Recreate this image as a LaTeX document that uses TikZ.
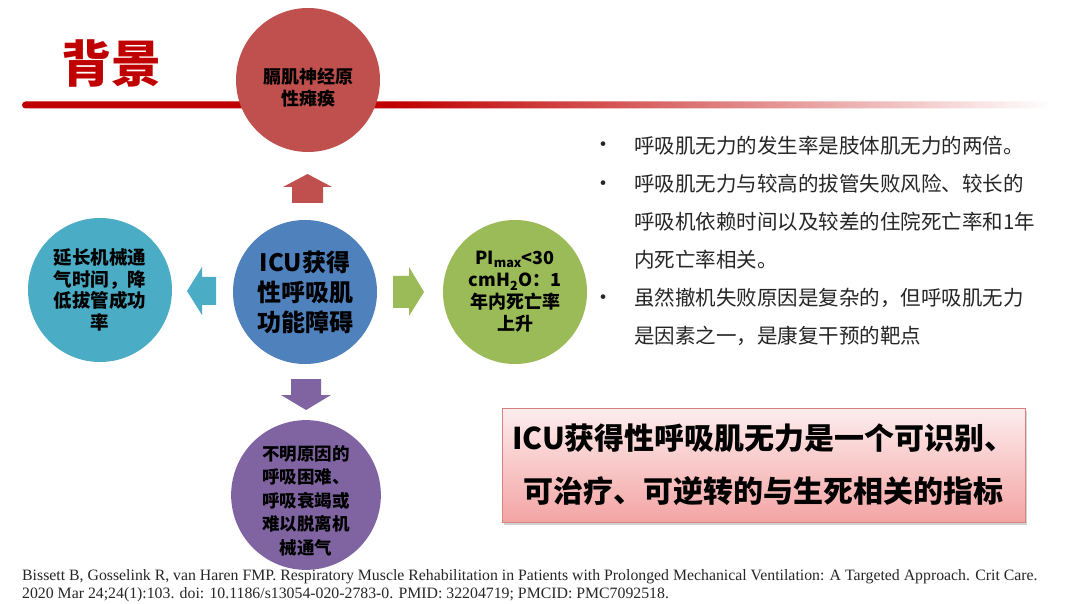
\documentclass[tikz,border=0pt]{standalone}
\usepackage{fontspec}
\setmainfont{Noto Sans CJK SC}
\newfontfamily\citefont{Liberation Serif}
\usetikzlibrary{shadows}

\definecolor{titlered}{HTML}{C00000}
\definecolor{topred}{HTML}{C0504D}
\definecolor{coreblue}{HTML}{4F81BD}
\definecolor{leafgreen}{HTML}{9BBB59}
\definecolor{aqua}{HTML}{4BACC6}
\definecolor{violet}{HTML}{8064A2}
\definecolor{pinktop}{HTML}{FDEDED}
\definecolor{pinkbot}{HTML}{F4A4A4}
\definecolor{bodygray}{HTML}{262626}
\pgfdeclarehorizontalshading{redfade}{100bp}{color(0bp)=(titlered); color(25bp)=(titlered); color(43bp)=(titlered); color(75bp)=(white); color(100bp)=(white)}

\tikzset{
  bubble/.style={circle, minimum size=144pt, inner sep=0pt, align=center, text=black,
    font=\fontsize{18}{22}\selectfont\bfseries},
}

\begin{document}
\begin{tikzpicture}[x=1pt, y=-1pt]
\useasboundingbox[fill=white] (0,0) rectangle (1080,604);

% Title bar
\node[text=titlered, font=\fontsize{50}{50}\selectfont\bfseries] (title) at (111,64) {背景};
\shade[shading=redfade, rounded corners=3.5] (22,101.5) rectangle (1052,108.5);

% Circles
\node[bubble, fill=topred] (nerve) at (308,80) {\rule{0pt}{31pt}膈肌神经原\\性瘫痪};
\node[bubble, fill=coreblue, font=\fontsize{24}{30}\selectfont\bfseries] (core) at (305,292) {ICU获得\\性呼吸肌\\功能障碍};
\node[bubble, fill=aqua, font=\fontsize{18.5}{21.5}\selectfont\bfseries] (vent) at (100,290) {延长机械通\\气时间，降\\低拔管成功\\率};
\node[bubble, fill=leafgreen, font=\fontsize{18}{22}\selectfont\bfseries] (pimax) at (515,292) {PI\textsubscript{max}<30\\cmH\textsubscript{2}O：1\\年内死亡率\\上升};
\node[bubble, fill=violet, font=\fontsize{17.5}{23.5}\selectfont\bfseries] (wean) at (306,495) {\rule{0pt}{26pt}不明原因的\\呼吸困难、\\呼吸衰竭或\\难以脱离机\\械通气};

% Block arrows
\fill[topred] (307.5,174) -- (332,187) -- (323,187) -- (323,203) -- (292,203) -- (292,187) -- (283,187) -- cycle;
\fill[violet] (291,379) -- (321,379) -- (321,395) -- (331,395) -- (306,410) -- (281,395) -- (291,395) -- cycle;
\fill[leafgreen] (393,276) -- (409,276) -- (409,267) -- (424,292) -- (409,316) -- (409,308) -- (393,308) -- cycle;
\fill[aqua] (216,277) -- (202,277) -- (202,267) -- (187,291) -- (202,315) -- (202,305) -- (216,305) -- cycle;

% Bullet list
\foreach \y [count=\i] in {147,186,300}
  \node[text=bodygray, font=\fontsize{22}{22}\selectfont] (dot\i) at (603,\y) {•};
\node[anchor=north west, inner sep=0pt, align=left, text=bodygray,
  font=\fontsize{20.5}{38}\selectfont] (facts) at (634,136)
  {呼吸肌无力的发生率是肢体肌无力的两倍。\\
   呼吸肌无力与较高的拔管失败风险、较长的\\
   呼吸机依赖时间以及较差的住院死亡率和1年\\
   内死亡率相关。\\
   虽然撤机失败原因是复杂的，但呼吸肌无力\\
   是因素之一，是康复干预的靶点};

% Key message
\node[draw=topred!70, line width=0.8pt, top color=pinktop, bottom color=pinkbot,
  minimum width=523pt, minimum height=114pt, align=center, inner sep=0pt,
  drop shadow={shadow xshift=2pt, shadow yshift=-3pt, opacity=0.35},
  font=\fontsize{30}{53}\selectfont\bfseries] (key) at (763.5,465)
  {ICU获得性呼吸肌无力是一个可识别、\\可治疗、可逆转的与生死相关的指标};

% Reference
\node[anchor=west, inner sep=0pt, align=left, text=bodygray,
  font=\citefont\fontsize{15.8}{18}\selectfont] (cite) at (22,586)
  {Bissett B, Gosselink R, van Haren FMP. Respiratory Muscle Rehabilitation in Patients with Prolonged Mechanical Ventilation: A Targeted Approach. Crit Care.\\
   2020 Mar 24;24(1):103. doi: 10.1186/s13054-020-2783-0. PMID: 32204719; PMCID: PMC7092518.};
\end{tikzpicture}
\end{document}
